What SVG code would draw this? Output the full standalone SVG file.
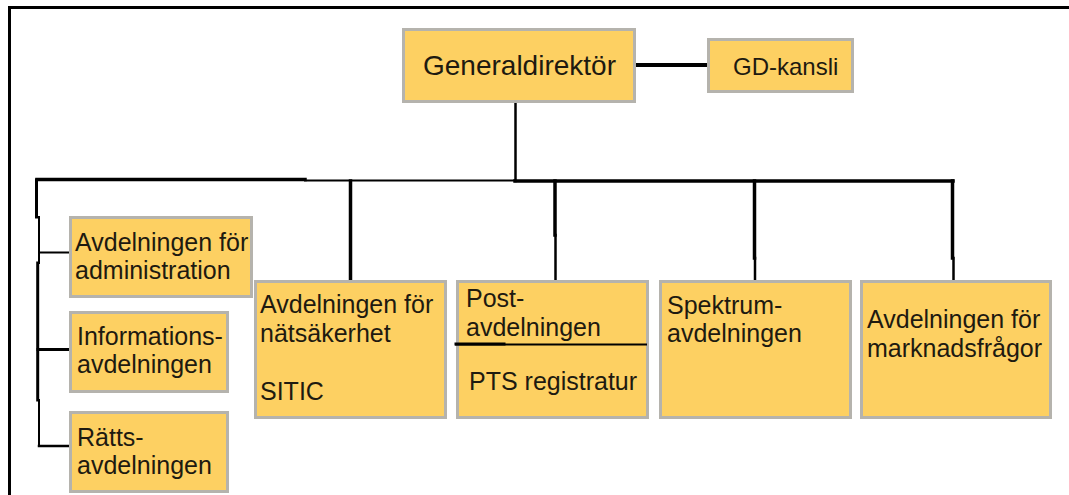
<svg xmlns="http://www.w3.org/2000/svg" width="1069" height="495" viewBox="0 0 1069 495">
<style>
.box{fill:#fdd062;stroke:#b5b3ad;stroke-width:3}
.t{font-family:"Liberation Sans",Arial,sans-serif;font-size:25px;fill:#1e1a10}
.c{stroke:#000;fill:none;stroke-linecap:square}
</style>
<rect width="1069" height="495" fill="#fff"/>
<g id="frame" class="c">
<path d="M9.5,7.5 H1068" stroke-width="3"/>
<path d="M9.5,7.5 V495" stroke-width="3"/>
</g>
<g id="connectors" class="c">
<path d="M636,65 H707" stroke-width="4"/>
<path d="M515.5,102 V181" stroke-width="2.5"/>
<path d="M37,179.5 H305" stroke-width="3.5"/>
<path d="M305,180.5 H515" stroke-width="2"/>
<path d="M515,181 H953" stroke-width="3.5"/>
<path d="M36.5,180 V217" stroke-width="3"/>
<path d="M39,217 V263" stroke-width="2"/>
<path d="M37.7,263 V400" stroke-width="3"/>
<path d="M39,400 V446" stroke-width="2"/>
<path d="M39,252.5 H70" stroke-width="2"/>
<path d="M38,349.5 H70" stroke-width="3"/>
<path d="M39,446 H70" stroke-width="2.5"/>
<path d="M350.5,181 V281" stroke-width="3.5"/>
<path d="M555,181 V235" stroke-width="3.5"/>
<path d="M555.5,235 V281" stroke-width="2.5"/>
<path d="M754.5,181 V258" stroke-width="3.5"/>
<path d="M755,258 V281" stroke-width="2.5"/>
<path d="M952.5,181 V258" stroke-width="3.5"/>
<path d="M953.5,258 V281" stroke-width="2.5"/>
</g>
<g id="gd">
<rect class="box" x="403.5" y="29.5" width="231" height="72"/>
<text class="t" x="423" y="75" style="font-size:28px">Generaldirektör</text>
</g>
<g id="gdkansli">
<rect class="box" x="708.5" y="39.5" width="144" height="52"/>
<text class="t" x="733" y="75" style="font-size:24px">GD-kansli</text>
</g>
<g id="admin">
<rect class="box" x="70.5" y="217.5" width="181" height="79"/>
<text class="t" x="75" y="251">Avdelningen för</text>
<text class="t" x="75" y="279">administration</text>
</g>
<g id="info">
<rect class="box" x="70.5" y="312.5" width="157" height="79"/>
<text class="t" x="77" y="345">Informations-</text>
<text class="t" x="77" y="373">avdelningen</text>
</g>
<g id="ratts">
<rect class="box" x="70.5" y="412.5" width="157" height="79"/>
<text class="t" x="77" y="446">Rätts-</text>
<text class="t" x="77" y="474">avdelningen</text>
</g>
<g id="natsakerhet">
<rect class="box" x="255.5" y="281.5" width="190" height="136"/>
<text class="t" x="260" y="313">Avdelningen för</text>
<text class="t" x="260" y="342">nätsäkerhet</text>
<text class="t" x="260" y="400">SITIC</text>
</g>
<g id="post">
<rect class="box" x="457.5" y="281.5" width="190" height="136"/>
<text class="t" x="466" y="307">Post-</text>
<text class="t" x="466" y="336">avdelningen</text>
<path class="c" d="M456,344.5 H646" stroke-width="2"/>
<path class="c" d="M456,344 H504" stroke-width="3"/>
<text class="t" x="469" y="390">PTS registratur</text>
</g>
<g id="spektrum">
<rect class="box" x="660.5" y="281.5" width="190" height="136"/>
<text class="t" x="667" y="314">Spektrum-</text>
<text class="t" x="667" y="342">avdelningen</text>
</g>
<g id="marknad">
<rect class="box" x="861.5" y="281.5" width="189" height="136"/>
<text class="t" x="867" y="328">Avdelningen för</text>
<text class="t" x="867" y="357">marknadsfrågor</text>
</g>
</svg>
